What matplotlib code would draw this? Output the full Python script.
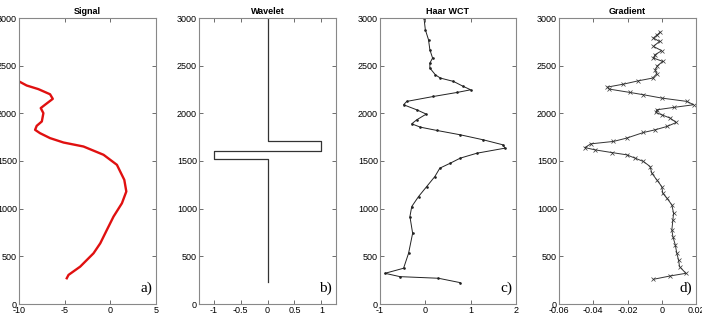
import numpy as np
import matplotlib.pyplot as plt

plt.rcParams['font.family'] = 'Liberation Sans'

# Signal (panel a): value, depth
sig_x = [-4.77, -4.58, -3.3, -1.84, -1.1, -0.38, 0.35, 1.27, 1.75, 1.53, 0.72, -0.74,
         -2.94, -5.13, -6.6, -7.7, -8.24, -8.06, -7.5, -7.33, -7.62, -7.15, -6.3, -6.6,
         -7.88, -9.16, -10.0]
sig_y = [270, 305, 392, 532, 637, 777, 917, 1057, 1180, 1302, 1460, 1565,
         1652, 1694, 1740, 1792, 1827, 1869, 1915, 2002, 2055, 2090, 2152, 2200,
         2254, 2292, 2335]

# Haar wavelet (panel b)
wav_x = [0, 0, -1, -1, 1, 1, 0, 0]
wav_y = [235, 1525, 1525, 1610, 1610, 1705, 1705, 3000]

# Haar wavelet coefficient transform (panel c)
wct_x = [0.77, 0.29, -0.56, -0.89, -0.48, -0.37, -0.28, -0.34, -0.30, -0.15, 0.03, 0.21,
         0.32, 0.55, 0.77, 1.14, 1.76, 1.71, 1.28, 0.77, 0.26, -0.11, -0.30, -0.19,
         0.02, -0.19, -0.48, -0.41, 0.18, 0.70, 1.0, 0.84, 0.62, 0.33, 0.22, 0.10,
         0.10, 0.16, 0.10, 0.07, 0.0, -0.03]
wct_y = [224, 270, 287, 322, 375, 532, 742, 917, 1022, 1127, 1232, 1337,
         1425, 1477, 1530, 1582, 1635, 1670, 1722, 1775, 1820, 1855, 1890, 1932,
         1992, 2037, 2090, 2125, 2177, 2219, 2247, 2282, 2335, 2370, 2405, 2475,
         2527, 2580, 2667, 2772, 2877, 3000]

# Gradient (panel d)
grd_x = [-0.0049, 0.0049, 0.0141, 0.0104, 0.0098, 0.0088, 0.0079, 0.0065, 0.0059, 0.0065,
         0.0069, 0.0059, 0.0030, 0.0006, 0.0000, -0.0029, -0.0058, -0.0068, -0.0107, -0.0156,
         -0.0205, -0.0293, -0.0390, -0.0449, -0.0414, -0.0283, -0.0205, -0.0107, -0.0039, 0.0030,
         0.0085, 0.0049, 0.0000, -0.0033, -0.0029, 0.0069, 0.0186, 0.0147, 0.0000, -0.0107,
         -0.0185, -0.0306, -0.0318, -0.0224, -0.0137, -0.0053, -0.0029, -0.0039, -0.0025, 0.0006,
         -0.0049, -0.0039, 0.0000, -0.0049, -0.0013, -0.0049, -0.0025, -0.0009]
grd_y = [259, 294, 322, 392, 462, 532, 620, 707, 777, 882,
         952, 1040, 1110, 1162, 1232, 1302, 1372, 1442, 1495, 1530,
         1565, 1589, 1617, 1641, 1680, 1705, 1740, 1799, 1827, 1862,
         1904, 1950, 1985, 2009, 2037, 2062, 2090, 2125, 2160, 2195,
         2219, 2254, 2275, 2306, 2341, 2370, 2415, 2457, 2499, 2545,
         2580, 2615, 2657, 2702, 2754, 2790, 2825, 2852]

titles = ['Signal', 'Wavelet', 'Haar WCT', 'Gradient']
tags = ['a)', 'b)', 'c)', 'd)']
xlims = [(-10, 5), (-1.27, 1.27), (-1, 2), (-0.06, 0.02)]
xticks = [[-10, -5, 0, 5], [-1, -0.5, 0, 0.5, 1], [-1, 0, 1, 2], [-0.06, -0.04, -0.02, 0, 0.02]]
xlabels = [['-10', '-5', '0', '5'], ['-1', '-0.5', '0', '0.5', '1'], ['-1', '0', '1', '2'],
           ['-0.06', '-0.04', '-0.02', '0', '0.02']]
lefts = [19, 199, 380, 559]
widths = [137, 137, 136, 137]

fig = plt.figure(figsize=(7.02, 3.19), dpi=100)
axes = []
for i in range(4):
    ax = fig.add_axes([lefts[i] / 702, 15 / 319, widths[i] / 702, 286 / 319])
    axes.append(ax)

axes[0].plot(sig_x, sig_y, color='#e01010', linewidth=1.7)
axes[1].plot(wav_x, wav_y, color='#333333', linewidth=0.9)
axes[2].plot(wct_x, wct_y, color='#222222', linewidth=0.7, marker='.', markersize=1.8)
axes[3].plot(grd_x, grd_y, color='#333333', linewidth=0.7, marker='x', markersize=3,
             markeredgewidth=0.5)

for i, ax in enumerate(axes):
    ax.set_xlim(*xlims[i])
    ax.set_ylim(0, 3000)
    ax.set_xticks(xticks[i])
    ax.set_xticklabels(xlabels[i])
    ax.set_yticks(np.arange(0, 3001, 500))
    ax.tick_params(direction='in', top=True, right=True, labelsize=6.5, length=3,
                   width=0.6, pad=1.5, color='#555555')
    for s in ax.spines.values():
        s.set_color('#888888')
        s.set_linewidth(0.8)
    ax.set_title(titles[i], fontsize=6.5, fontweight='bold', pad=3)
    ax.text(0.97, 0.03, tags[i], transform=ax.transAxes, ha='right', va='bottom',
            fontsize=11, family='Liberation Serif')

plt.savefig('out.png', dpi=100)
